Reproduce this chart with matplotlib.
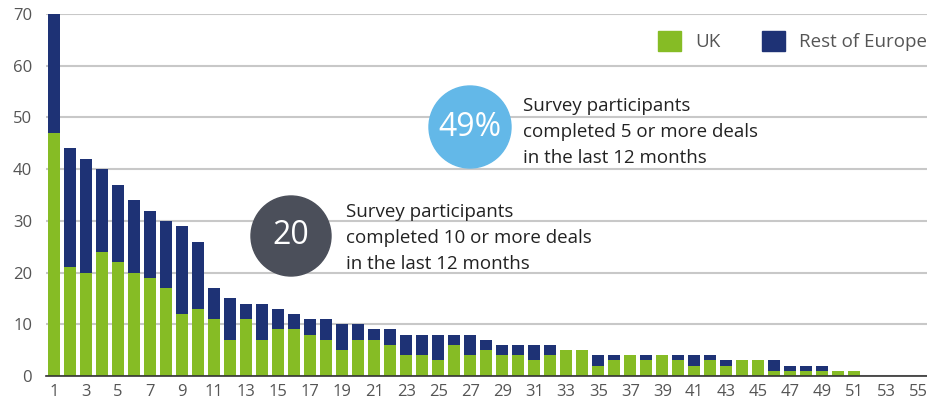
import numpy as np
import matplotlib
matplotlib.use('Agg')
import matplotlib.pyplot as plt
from matplotlib.patches import Ellipse, Patch

plt.rcParams['font.family'] = ['Open Sans', 'DejaVu Sans']

# deal count rank 1..55
ranks = list(range(1, 56))
uk = [47, 21, 20, 24, 22, 20, 19, 17, 12, 13, 11, 7, 11, 7, 9, 9, 8, 7, 5, 7,
      7, 6, 4, 4, 3, 6, 4, 5, 4, 4, 3, 4, 5, 5, 2, 3, 4, 3, 4, 3,
      2, 3, 2, 3, 3, 1, 1, 1, 1, 1, 1, 0, 0, 0, 0]
rest_europe = [23, 23, 22, 16, 15, 14, 13, 13, 17, 13, 6, 8, 3, 7, 4, 3, 3, 4, 5, 3,
               2, 3, 4, 4, 5, 2, 4, 2, 2, 2, 3, 2, 0, 0, 2, 1, 0, 1, 0, 1,
               2, 1, 1, 0, 0, 2, 1, 1, 1, 0, 0, 0, 0, 0, 0]
xticks = list(range(1, 56, 2))
yticks = [0, 10, 20, 30, 40, 50, 60, 70]

green = '#86bc25'
navy = '#1e3275'
grey_txt = '#555555'

W, H = 928, 404
fig = plt.figure(figsize=(W / 100, H / 100), dpi=100)
ax = fig.add_axes([46 / W, 28 / H, 1 - 46 / W, (376 - 14) / H])

ax.bar(ranks, uk, width=0.75, color=green, zorder=3)
ax.bar(ranks, rest_europe, width=0.75, bottom=uk, color=navy, zorder=3)

ax.set_xlim(0.5, 55.6)
ax.set_ylim(0, 70)
ax.set_xticks(xticks)
ax.set_yticks(yticks)
ax.tick_params(axis='both', length=0, labelsize=12, colors=grey_txt)
ax.tick_params(axis='y', pad=10)
ax.tick_params(axis='x', pad=6)
ax.yaxis.grid(True, color='#c8c8c8', linewidth=1.5, zorder=0)
for s in ['top', 'right', 'left']:
    ax.spines[s].set_visible(False)
ax.spines['bottom'].set_color('#333333')
ax.spines['bottom'].set_linewidth(1.2)
ax.spines['bottom'].set_zorder(4)

# legend
handles = [Patch(color=green, label='UK'), Patch(color=navy, label='Rest of Europe')]
leg = ax.legend(handles=handles, loc='upper right', bbox_to_anchor=(1.018, 1.0),
                ncol=2, frameon=False, fontsize=13.5, handlelength=1.25,
                handleheight=1.25, handletextpad=0.75, columnspacing=2.2)
for t in leg.get_texts():
    t.set_color(grey_txt)

# call-out bubbles
def bubble(cx, cy, r, color, label, text, tx, ty):
    fig.add_artist(Ellipse((cx / W, 1 - cy / H), 2 * r / W, 2 * r / H,
                           transform=fig.transFigure, color=color, zorder=5))
    fig.text(cx / W, 1 - cy / H, label, color='white', fontsize=23,
             ha='center', va='center', zorder=6)
    fig.text(tx / W, 1 - ty / H, text, color='#222222', fontsize=13.5,
             ha='left', va='center', linespacing=1.6, zorder=6)

bubble(470, 127, 41, '#63b8e8', '49%',
       'Survey participants\ncompleted 5 or more deals\nin the last 12 months', 523, 132)
bubble(291, 236, 40, '#4b4f5a', '20',
       'Survey participants\ncompleted 10 or more deals\nin the last 12 months', 346, 238)

fig.savefig('out.png', dpi=100)
